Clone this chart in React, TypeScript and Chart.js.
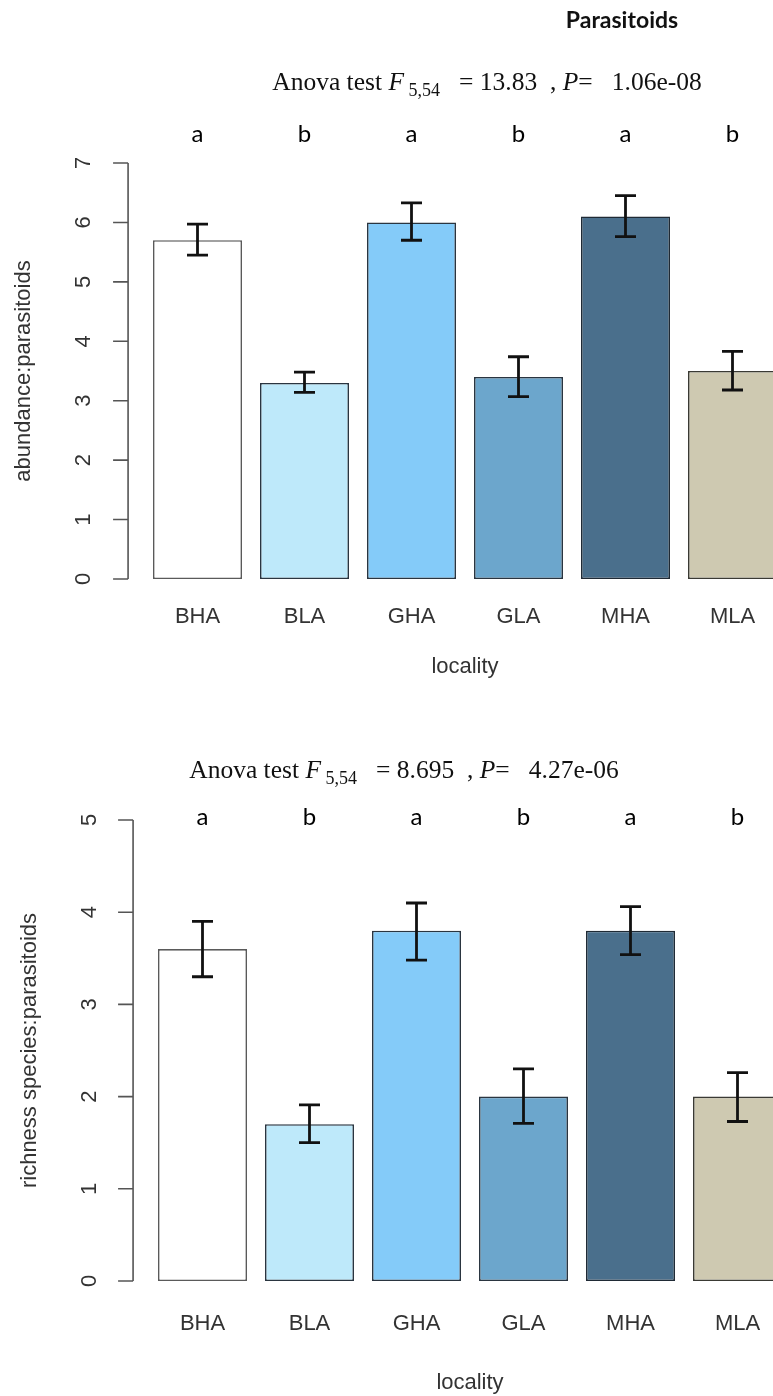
import React, { useEffect, useRef } from "react";
import { Chart, registerables } from "chart.js";

Chart.register(...registerables);

// ---------- data ----------
const localities = ["BHA", "BLA", "GHA", "GLA", "MHA", "MLA"];

const abundanceMean = [5.7, 3.3, 6.0, 3.4, 6.1, 3.5];
const abundanceLow = [5.45, 3.14, 5.7, 3.07, 5.76, 3.18];
const abundanceHigh = [5.97, 3.48, 6.33, 3.74, 6.45, 3.83];
const abundanceLetters = ["a", "b", "a", "b", "a", "b"];
const abundanceTicks = [0, 1, 2, 3, 4, 5, 6, 7];

const richnessMean = [3.6, 1.7, 3.8, 2.0, 3.8, 2.0];
const richnessLow = [3.3, 1.5, 3.48, 1.71, 3.54, 1.73];
const richnessHigh = [3.9, 1.91, 4.1, 2.3, 4.06, 2.26];
const richnessLetters = ["a", "b", "a", "b", "a", "b"];
const richnessTicks = [0, 1, 2, 3, 4, 5];

const barColors = ["#FFFFFF", "#BEE9FA", "#84CBF9", "#6CA6CC", "#4A6F8C", "#CEC9B1"];
const barBorders = ["#5a5a5a", "#2a3540", "#2a3540", "#2a3540", "#1f2a35", "#3a3a34"];

const SANS = "'Liberation Sans', Arial, sans-serif";
const SERIF = "'Liberation Serif', 'Times New Roman', serif";
const CALIBRI = "Lato, 'Open Sans', sans-serif";

const CANVAS_W = 830;
const CANVAS_H = 698;

type PanelCfg = {
  means: number[];
  low: number[];
  high: number[];
  letters: string[];
  ticks: number[];
  yMax: number;
  yTitle: string;
  fStat: string;
  pVal: string;
  title?: string;
  area: { left: number; right: number; top: number; bottom: number };
  tickPad: number;
  titlePad: number;
  anovaCx: number;
  anovaBase: number;
  letterDy: number;
  tickLabelGap: number;
  yTitleGap: number;
};

const topPanel: PanelCfg = {
  means: abundanceMean,
  low: abundanceLow,
  high: abundanceHigh,
  letters: abundanceLetters,
  ticks: abundanceTicks,
  yMax: 7,
  yTitle: "abundance:parasitoids",
  fStat: "13.83",
  pVal: "1.06e-08",
  title: "Parasitoids",
  area: { left: 144, right: 786, top: 163, bottom: 579 },
  tickPad: 25,
  titlePad: 18,
  anovaCx: 487,
  anovaBase: 90,
  letterDy: -21,
  tickLabelGap: 44,
  yTitleGap: 104,
};

const bottomPanel: PanelCfg = {
  means: richnessMean,
  low: richnessLow,
  high: richnessHigh,
  letters: richnessLetters,
  ticks: richnessTicks,
  yMax: 5,
  yTitle: "richness species:parasitoids",
  fStat: "8.695",
  pVal: "4.27e-06",
  area: { left: 149, right: 791, top: 122, bottom: 583 },
  tickPad: 30,
  titlePad: 0,
  anovaCx: 404,
  anovaBase: 80,
  letterDy: 5,
  tickLabelGap: 43,
  yTitleGap: 103,
};

function drawAnova(ctx: CanvasRenderingContext2D, cx: number, base: number, fStat: string, pVal: string) {
  const size = 25.5;
  const segs = [
    { t: "Anova test ", font: `${size}px ${SERIF}`, dy: 0 },
    { t: "F", font: `italic ${size}px ${SERIF}`, dy: 0 },
    { t: " 5,54", font: `${Math.round(size * 0.7)}px ${SERIF}`, dy: size * 0.25 },
    { t: "   = " + fStat + "  , ", font: `${size}px ${SERIF}`, dy: 0 },
    { t: "P", font: `italic ${size}px ${SERIF}`, dy: 0 },
    { t: "=   " + pVal, font: `${size}px ${SERIF}`, dy: 0 },
  ];
  let total = 0;
  const widths: number[] = [];
  for (const s of segs) {
    ctx.font = s.font;
    const w = ctx.measureText(s.t).width;
    widths.push(w);
    total += w;
  }
  let x = cx - total / 2;
  ctx.fillStyle = "#111";
  ctx.textAlign = "left";
  ctx.textBaseline = "alphabetic";
  segs.forEach((s, i) => {
    ctx.font = s.font;
    ctx.fillText(s.t, x, base + s.dy);
    x += widths[i];
  });
}

function makePlugin(cfg: PanelCfg) {
  return {
    id: "rstyle",
    afterDatasetsDraw(chart: any) {
      const ctx: CanvasRenderingContext2D = chart.ctx;
      const y = chart.scales.y;
      const meta = chart.getDatasetMeta(0);
      // error bars
      ctx.save();
      ctx.strokeStyle = "#111";
      ctx.lineWidth = 2.8;
      ctx.lineCap = "butt";
      meta.data.forEach((bar: any, i: number) => {
        const x = bar.x;
        const yl = y.getPixelForValue(cfg.low[i]);
        const yh = y.getPixelForValue(cfg.high[i]);
        ctx.beginPath();
        ctx.moveTo(x, yl);
        ctx.lineTo(x, yh);
        ctx.moveTo(x - 10.5, yl);
        ctx.lineTo(x + 10.5, yl);
        ctx.moveTo(x - 10.5, yh);
        ctx.lineTo(x + 10.5, yh);
        ctx.stroke();
      });
      ctx.restore();
    },
    afterDraw(chart: any) {
      const ctx: CanvasRenderingContext2D = chart.ctx;
      const y = chart.scales.y;
      const meta = chart.getDatasetMeta(0);
      const first = meta.data[0];
      const barW = first.width;
      const axisX = first.x - barW / 2 - 0.28 * barW;
      ctx.save();
      // y axis line + ticks (R style)
      ctx.strokeStyle = "#555";
      ctx.lineWidth = 1.6;
      const y0 = y.getPixelForValue(cfg.ticks[0]);
      const y1 = y.getPixelForValue(cfg.ticks[cfg.ticks.length - 1]);
      ctx.beginPath();
      ctx.moveTo(axisX, y0);
      ctx.lineTo(axisX, y1);
      cfg.ticks.forEach((t) => {
        const py = y.getPixelForValue(t);
        ctx.moveTo(axisX, py);
        ctx.lineTo(axisX - 15, py);
      });
      ctx.stroke();
      // tick labels rotated
      ctx.fillStyle = "#333";
      ctx.font = `22px ${SANS}`;
      ctx.textAlign = "center";
      ctx.textBaseline = "middle";
      cfg.ticks.forEach((t) => {
        const py = y.getPixelForValue(t);
        ctx.save();
        ctx.translate(axisX - cfg.tickLabelGap, py);
        ctx.rotate(-Math.PI / 2);
        ctx.fillText(String(t), 0, 0);
        ctx.restore();
      });
      // y title
      ctx.save();
      ctx.translate(axisX - cfg.yTitleGap, (y0 + y1) / 2);
      ctx.rotate(-Math.PI / 2);
      ctx.fillText(cfg.yTitle, 0, 0);
      ctx.restore();
      // significance letters
      ctx.fillStyle = "#000";
      ctx.font = `24px ${CALIBRI}`;
      ctx.textAlign = "center";
      ctx.textBaseline = "alphabetic";
      meta.data.forEach((bar: any, i: number) => {
        ctx.fillText(cfg.letters[i], bar.x, chart.chartArea.top + cfg.letterDy);
      });
      // anova
      drawAnova(ctx, cfg.anovaCx, cfg.anovaBase, cfg.fStat, cfg.pVal);
      // title
      if (cfg.title) {
        ctx.fillStyle = "#111";
        ctx.font = `bold 23px ${CALIBRI}`;
        ctx.textAlign = "center";
        ctx.textBaseline = "alphabetic";
        ctx.fillText(cfg.title, 622, 28);
      }
      ctx.restore();
    },
  };
}

function Panel({ cfg }: { cfg: PanelCfg }) {
  const ref = useRef<HTMLCanvasElement>(null);
  useEffect(() => {
    if (!ref.current) return;
    const a = cfg.area;
    const chart = new Chart(ref.current, {
      type: "bar",
      data: {
        labels: localities,
        datasets: [
          {
            data: cfg.means,
            backgroundColor: barColors,
            borderColor: barBorders,
            borderWidth: 1.6,
            borderSkipped: false,
            categoryPercentage: 1,
            barPercentage: 89 / 107,
          },
        ],
      },
      options: {
        animation: false,
        responsive: false,
        maintainAspectRatio: false,
        events: [],
        layout: {
          padding: { left: a.left, right: CANVAS_W - a.right, top: a.top, bottom: 0 },
        },
        plugins: { legend: { display: false }, tooltip: { enabled: false }, title: { display: false } },
        scales: {
          x: {
            grid: { display: false, drawTicks: false },
            border: { display: false },
            ticks: {
              font: { family: SANS, size: 22 },
              color: "#333",
              padding: cfg.tickPad,
              maxRotation: 0,
              minRotation: 0,
              autoSkip: false,
            },
            title: {
              display: true,
              text: "locality",
              font: { family: SANS, size: 22 },
              color: "#333",
              padding: { top: 0, bottom: cfg.titlePad },
            },
            afterFit: (s: any) => {
              s.height = CANVAS_H - a.bottom;
            },
          },
          y: { display: false, min: 0, max: cfg.yMax },
        },
      },
      plugins: [makePlugin(cfg)],
    } as any);
    return () => chart.destroy();
  }, [cfg]);
  return <canvas ref={ref} width={CANVAS_W} height={CANVAS_H} style={{ display: "block", width: CANVAS_W, height: CANVAS_H }} />;
}

export default function App() {
  return (
    <div
      style={{
        position: "absolute",
        left: 0,
        top: 0,
        width: 773,
        height: 1396,
        overflow: "hidden",
        background: "#fff",
      }}
    >
      <Panel cfg={topPanel} />
      <Panel cfg={bottomPanel} />
    </div>
  );
}
